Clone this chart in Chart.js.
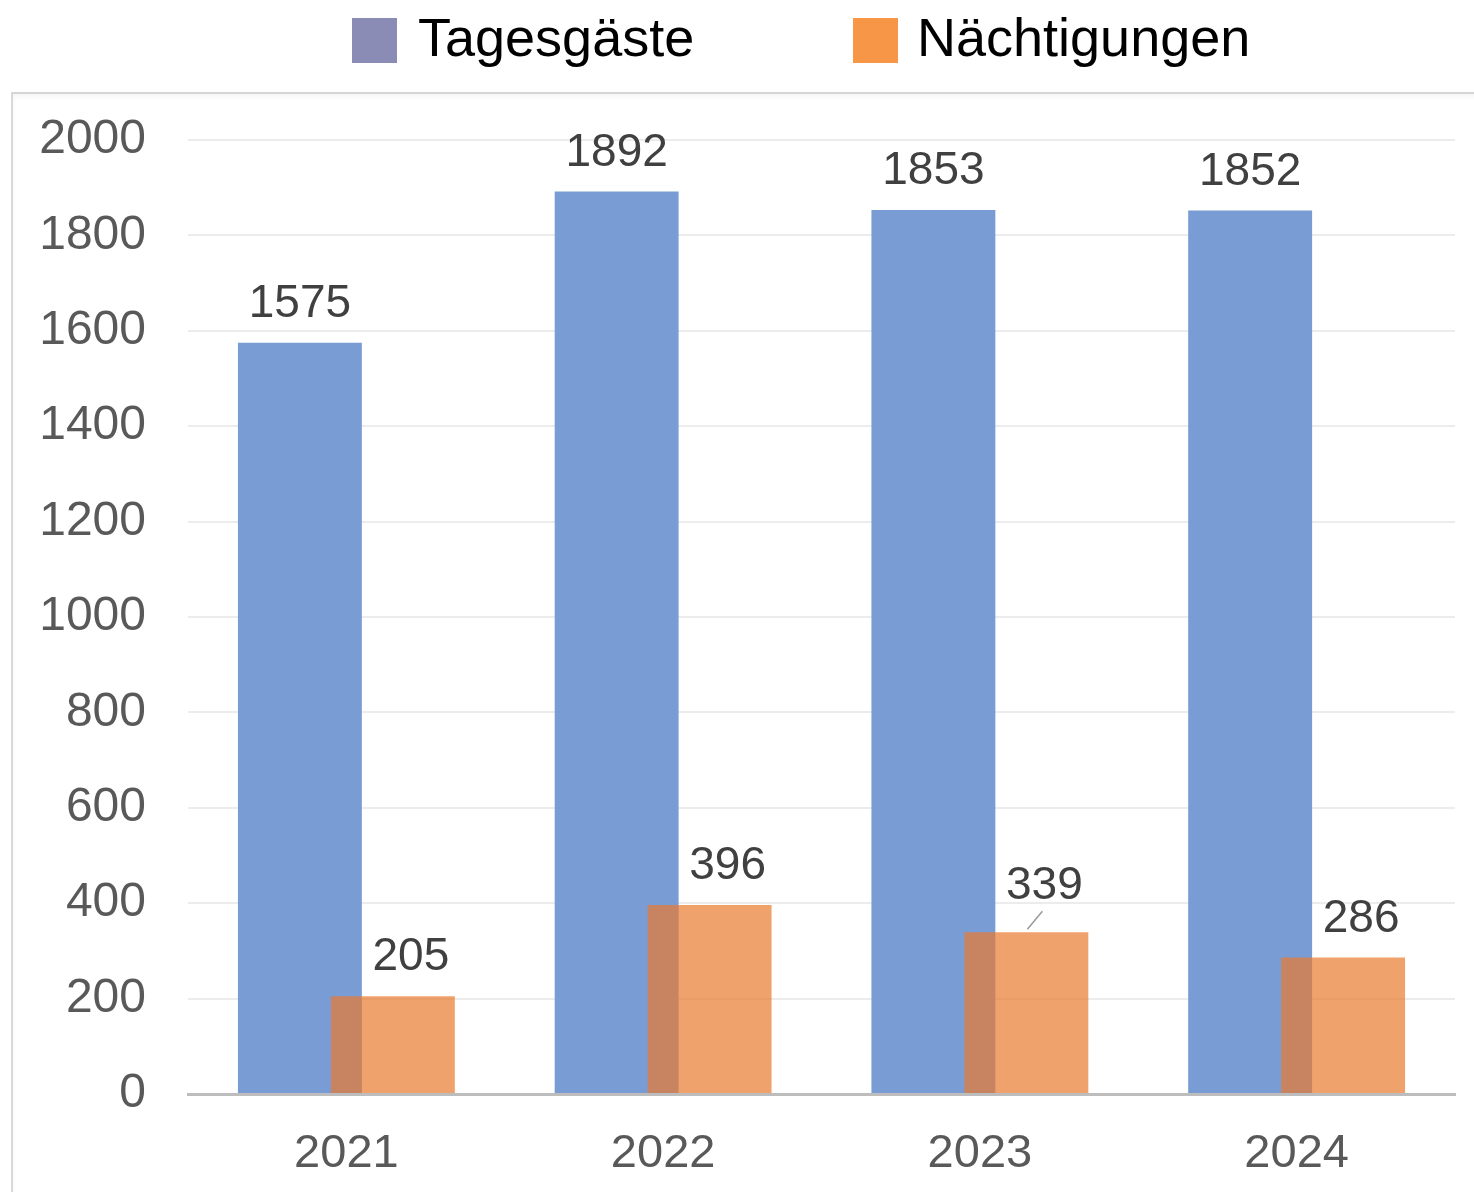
<!DOCTYPE html>
<html lang="de">
<head>
<meta charset="utf-8">
<title>Tagesgäste und Nächtigungen</title>
<script src="https://cdn.jsdelivr.net/npm/chart.js@4.4.1/dist/chart.umd.min.js"></script>
<style>
  body { margin: 0; background: #fff; width: 1474px; height: 1192px; overflow: hidden; position: relative;
         font-family: "Liberation Sans", Arial, sans-serif; }
  /* rahmen um die grafik */
  #rahmen { position: absolute; left: 11px; top: 92px; width: 1500px; height: 1150px;
            border-left: 2px solid #d9d9d9; border-top: 2px solid #d4d4d4;
            box-shadow: inset 0 3px 4px rgba(0,0,0,0.04); }
  #grafik { position: absolute; left: 0; top: 0; }
  .legende-box { position: absolute; top: 18px; width: 45px; height: 45px; }
  .legende-text { position: absolute; top: 10px; font-size: 54px; line-height: 54px; color: #000; white-space: nowrap; }
</style>
</head>
<body>
<div id="rahmen"></div>
<canvas id="grafik" width="1474" height="1192"></canvas>
<div class="legende-box" style="left:352px;background:#8a8cb5"></div>
<div class="legende-text" style="left:418px">Tagesgäste</div>
<div class="legende-box" style="left:853px;background:#f79646"></div>
<div class="legende-text" style="left:917px">Nächtigungen</div>
<script>
// werte
const jahre = ['2021', '2022', '2023', '2024']
const tagesgaeste = [1575, 1892, 1853, 1852]
const naechtigungen = [205, 396, 339, 286]
const yMin = 0
const yMax = 2000
const ySchritt = 200

const schrift = '"Liberation Sans", Arial, sans-serif'

// zeichnet die orangen balken nach den blauen, damit sie oben liegen
const reihenfolge = {
  id: 'reihenfolge',
  beforeDatasetDraw(chart, args) {
    if (args.index === 1) return false
  },
  afterDatasetsDraw(chart) {
    chart.getDatasetMeta(1).controller.draw()
  },
}

// wertebeschriftungen über den balken
const werte = {
  id: 'werte',
  afterDatasetsDraw(chart) {
    const ctx = chart.ctx
    ctx.save()
    ctx.font = '46px ' + schrift
    ctx.fillStyle = '#404040'
    ctx.textAlign = 'center'
    ctx.textBaseline = 'alphabetic'
    chart.data.datasets.forEach((ds, i) => {
      chart.getDatasetMeta(i).data.forEach((bar, j) => {
        const dx = i === 1 ? 18 : 0
        // bei 339 sitzt die beschriftung etwas höher (mit führungslinie)
        const dy = i === 1 && j === 2 ? 33 : 26
        ctx.fillText(String(ds.data[j]), bar.x + dx, bar.y - dy)
      })
    })
    // kleine führungslinie bei 339
    const b = chart.getDatasetMeta(1).data[2]
    ctx.strokeStyle = '#9a9a9a'
    ctx.lineWidth = 1.5
    ctx.beginPath()
    ctx.moveTo(b.x + 1, b.y - 3)
    ctx.lineTo(b.x + 16, b.y - 21)
    ctx.stroke()
    ctx.restore()
  },
}

new Chart(document.getElementById('grafik').getContext('2d'), {
  type: 'bar',
  data: {
    labels: jahre,
    datasets: [
      {
        label: 'Tagesgäste',
        data: tagesgaeste,
        backgroundColor: '#7a9cd5',
        categoryPercentage: 0.587,
        barPercentage: 1.333,
      },
      {
        label: 'Nächtigungen',
        data: naechtigungen,
        backgroundColor: 'rgba(234, 122, 45, 0.7)',
        categoryPercentage: 0.587,
        barPercentage: 1.333,
      },
    ],
  },
  options: {
    responsive: false,
    animation: false,
    layout: { padding: { top: 140, right: 19, left: 0, bottom: 0 } },
    plugins: {
      legend: { display: false },
      tooltip: { enabled: false },
    },
    scales: {
      x: {
        grid: { display: false },
        border: { display: true, color: '#bdbdbd', width: 3 },
        ticks: { color: '#595959', font: { family: schrift, size: 47 }, padding: 24 },
        afterFit: s => { s.height = 98 },
      },
      y: {
        min: yMin,
        max: yMax,
        grid: { color: '#ececec', lineWidth: 2, drawTicks: false },
        border: { display: false },
        ticks: {
          stepSize: ySchritt,
          color: '#595959',
          font: { family: schrift, size: 48 },
          padding: 42,
          callback: v => String(v), // ohne tausendertrennzeichen
        },
        afterFit: s => { s.width = 188 },
      },
    },
  },
  plugins: [reihenfolge, werte],
})
</script>
</body>
</html>
